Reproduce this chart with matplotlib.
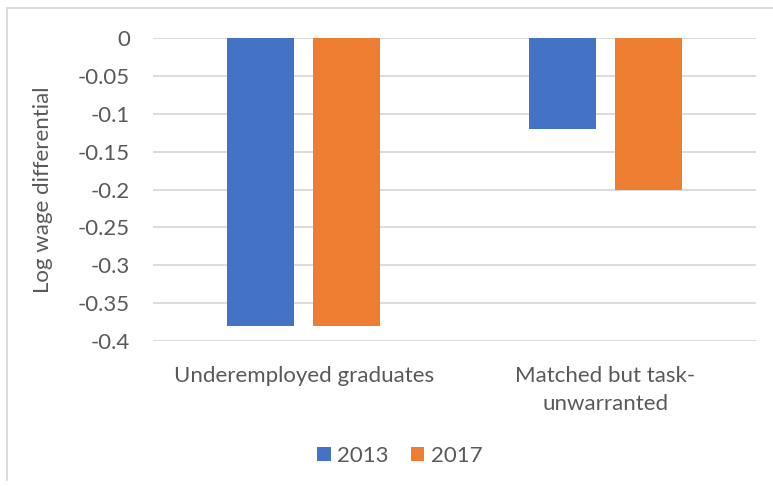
import numpy as np
import matplotlib.pyplot as plt
from matplotlib.lines import Line2D

categories = ["Underemployed graduates", "Matched but task-\nunwarranted"]
years = ["2013", "2017"]
values_2013 = [-0.38, -0.12]
values_2017 = [-0.38, -0.20]
yticks = [0, -0.05, -0.1, -0.15, -0.2, -0.25, -0.3, -0.35, -0.4]

W, H = 773, 486
plt.rcParams['font.family'] = ['Lato', 'DejaVu Sans']
txt = '#595959'
fs = 16

fig = plt.figure(figsize=(W / 100, H / 100), dpi=100)
# plot area in pixels: x 153..756, y 38..341
ax = fig.add_axes([153 / W, 1 - 341 / H, (756 - 153) / W, (341 - 38) / H])

x = np.arange(len(categories))
bw = 0.222
off = 0.143
ax.bar(x - off, values_2013, bw, color='#4472C4', label=years[0], zorder=3)
ax.bar(x + off, values_2017, bw, color='#ED7D31', label=years[1], zorder=3)

ax.set_xlim(-0.5, 1.5)
ax.set_ylim(-0.4, 0)
ax.set_yticks(yticks)
ax.set_yticklabels([f"{v:g}" for v in yticks], fontsize=fs, color=txt)
ax.yaxis.grid(True, color='#D9D9D9', linewidth=1.3, zorder=0)
ax.tick_params(axis='y', length=0, pad=16.5)
ax.tick_params(axis='x', length=0, pad=18)
ax.set_xticks(x)
ax.set_xticklabels(categories, fontsize=fs, color=txt, linespacing=1.5)
for s in ax.spines.values():
    s.set_visible(False)

ax.set_ylabel("Log wage differential", fontsize=fs, color=txt)
ax.yaxis.set_label_coords(-100 / 603, 0.5)

ax.legend(loc='center', bbox_to_anchor=(400 / W, 1 - 456 / H), bbox_transform=fig.transFigure,
          ncol=2, frameon=False, fontsize=fs, labelcolor=txt,
          handlelength=0.6, handleheight=0.6, handletextpad=0.3, columnspacing=1.0)

# outer chart border (top and left edges visible)
fig.add_artist(Line2D([7 / W, 1], [1 - 8 / H, 1 - 8 / H], transform=fig.transFigure, color='#D9D9D9', lw=1.3))
fig.add_artist(Line2D([7 / W, 7 / W], [1 - 8 / H, 1 - 480 / H], transform=fig.transFigure, color='#D9D9D9', lw=1.3))

fig.savefig("out.png", dpi=100)
